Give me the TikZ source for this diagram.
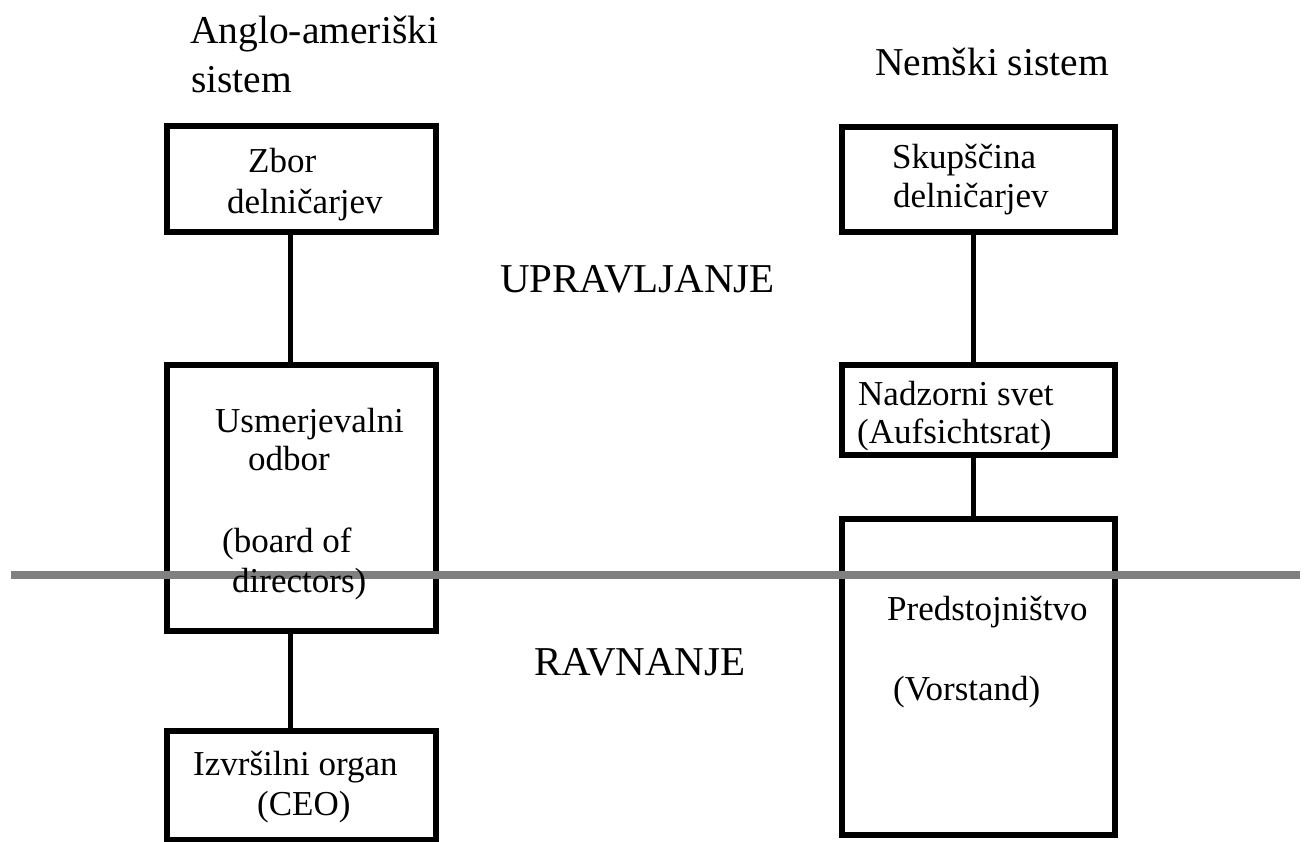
\documentclass[tikz,border=0pt]{standalone}
\usepackage{fontspec}
\setmainfont{Liberation Serif}
\begin{document}
\begin{tikzpicture}[x=1pt,y=-1pt,
  box/.style={draw=black,line width=6pt,fill=white,rectangle,inner sep=0pt,outer sep=0pt,anchor=north west},
  conn/.style={draw=black,line width=5pt},
  divider/.style={draw=black!50,line width=8pt},
  boxtext/.style={anchor=base west,inner sep=0pt,font=\fontsize{35}{40}\selectfont},
  titletext/.style={anchor=base west,inner sep=0pt,font=\fontsize{39.5}{44}\selectfont},
  midtext/.style={anchor=base,inner sep=0pt,font=\fontsize{41}{46}\selectfont}]
\useasboundingbox (0,0) rectangle (1307,841);
% boxes
\node[box,minimum width=269pt,minimum height=106pt] (zbor) at (167,126) {};
\node[box,minimum width=269pt,minimum height=266pt] (usm) at (167,365) {};
\node[box,minimum width=269pt,minimum height=109.5pt] (izv) at (167,730.5) {};
\node[box,minimum width=273.5pt,minimum height=105pt] (skup) at (841.5,126.5) {};
\node[box,minimum width=273.5pt,minimum height=90pt] (nadz) at (841.5,365) {};
\node[box,minimum width=273.5pt,minimum height=316.5pt] (pred) at (841.5,518.5) {};
% connectors
\draw[conn] ([xshift=-11.5pt]zbor.south) -- ([xshift=-11.5pt]usm.north);
\draw[conn] ([xshift=-11.5pt]usm.south) -- ([xshift=-11.5pt]izv.north);
\draw[conn] ([xshift=-5pt]skup.south) -- ([xshift=-5pt]nadz.north);
\draw[conn] ([xshift=-5pt]nadz.south) -- ([xshift=-5pt]pred.north);
% divider
\coordinate (dl) at (11,575);
\coordinate (dr) at (1300,575);
\draw[divider] (dl) -- (dr);
% titles
\node[titletext] (t1) at (190,43) {Anglo-ameriški};
\node[titletext] (t2) at (191,92) {sistem};
\node[titletext] (t3) at (875,75) {Nemški sistem};
\node[midtext] (upr) at (637.5,292) {UPRAVLJANJE};
\node[midtext] (rav) at (640,675) {RAVNANJE};
% box texts
\node[boxtext] (a1) at (248,172) {Zbor};
\node[boxtext] (a2) at (227,213) {delničarjev};
\node[boxtext] (b1) at (215,432) {Usmerjevalni};
\node[boxtext] (b2) at (248,470) {odbor};
\node[boxtext] (b3) at (222,552) {(board of};
\node[boxtext] (b4) at (232,592) {directors)};
\node[boxtext] (c1) at (193,775) {Izvršilni organ};
\node[boxtext] (c2) at (257,815) {(CEO)};
\node[boxtext] (d1) at (892,168) {Skupščina};
\node[boxtext] (d2) at (893,207) {delničarjev};
\node[boxtext] (e1) at (858,405) {Nadzorni svet};
\node[boxtext] (e2) at (857,443) {(Aufsichtsrat)};
\node[boxtext] (f1) at (887,620) {Predstojništvo};
\node[boxtext] (f2) at (893,700) {(Vorstand)};
\end{tikzpicture}
\end{document}
